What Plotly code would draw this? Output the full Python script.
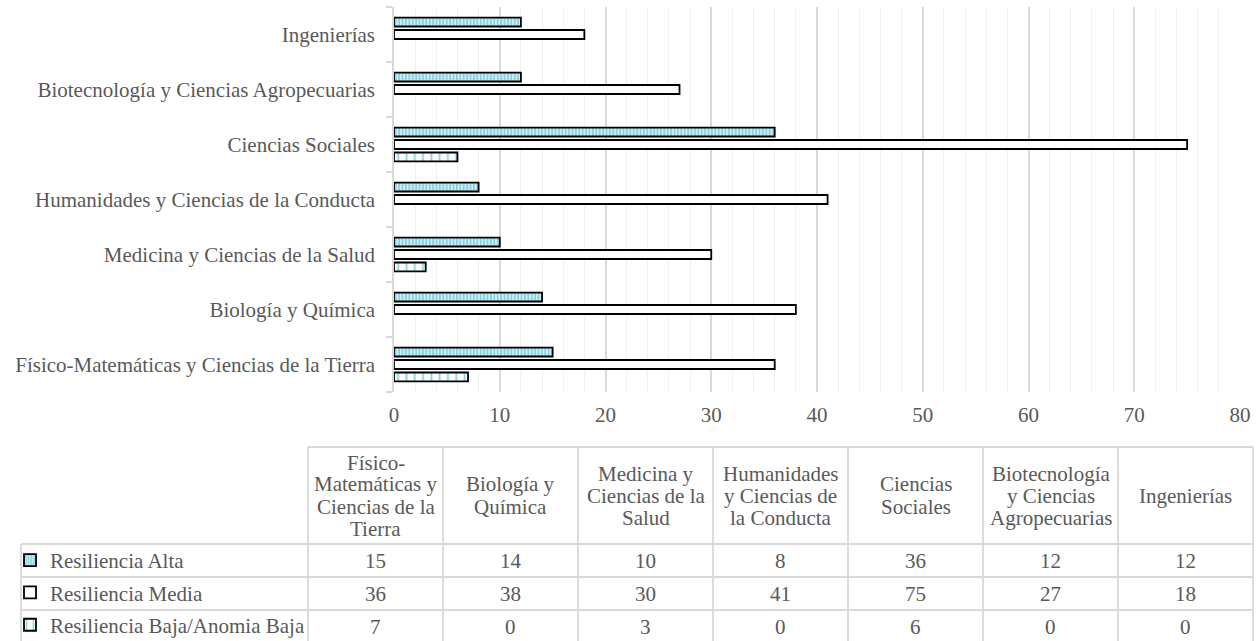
import plotly.graph_objects as go

# ---------------- data ----------------
categories = [
    "Físico-Matemáticas y Ciencias de la Tierra",
    "Biología y Química",
    "Medicina y Ciencias de la Salud",
    "Humanidades y Ciencias de la Conducta",
    "Ciencias Sociales",
    "Biotecnología y Ciencias Agropecuarias",
    "Ingenierías",
]
header_labels = [
    "Físico-<br>Matemáticas y<br>Ciencias de la<br>Tierra",
    "Biología y<br>Química",
    "Medicina y<br>Ciencias de la<br>Salud",
    "Humanidades<br>y Ciencias de<br>la Conducta",
    "Ciencias<br>Sociales",
    "Biotecnología<br>y Ciencias<br>Agropecuarias",
    "Ingenierías",
]
series_names = ["Resiliencia Alta", "Resiliencia Media", "Resiliencia Baja/Anomia Baja"]
alta = [15, 14, 10, 8, 36, 12, 12]
media = [36, 38, 30, 41, 75, 27, 18]
baja = [7, 0, 3, 0, 6, 0, 0]
x_ticks = [0, 10, 20, 30, 40, 50, 60, 70, 80]

# ---------------- geometry / style ----------------
W, H = 1259, 641
PL, PR, PT, PB = 394, 1240, 7, 392          # plot area in pixels
FONT = "Liberation Serif, Times New Roman, serif"
TXT = "#595959"
GRID = "#d9d9d9"
CYAN = "#0fa6c2"
FS = 21


def px(x):
    return (x - PL) / (PR - PL)


def py(y):
    return (PB - y) / (PB - PT)


fig = go.Figure()

series = [
    (series_names[2], baja, dict(shape="|", size=8.3, solidity=0.22, fgcolor=CYAN, bgcolor="white"), 3),
    (series_names[1], media, None, 2),
    (series_names[0], alta, dict(shape="|", size=3.4, solidity=0.7, fgcolor=CYAN, bgcolor="white"), 1),
]
for name, vals, pat, rank in series:
    marker = dict(color="white", line=dict(color="black", width=1.8))
    if pat:
        marker["pattern"] = pat
    fig.add_trace(go.Bar(
        x=[v if v else None for v in vals], y=categories, orientation="h", name=name,
        marker=marker, legendrank=rank, legendgroup=name,
    ))

# ---------------- table (drawn below the chart) ----------------
TL, C0, CW = 21, 308, 135
HT, HB = 447, 544
ROW_H = 33
rows = [alta, media, baja]
ncol = len(categories)
TR = C0 + CW * ncol
TB = HB + ROW_H * len(rows)

shapes = []
lw = 1.8


def hline(y, x0, x1):
    shapes.append(dict(type="line", xref="paper", yref="paper", x0=px(x0), x1=px(x1),
                       y0=py(y), y1=py(y), line=dict(color=GRID, width=lw)))


def vline(x, y0, y1):
    shapes.append(dict(type="line", xref="paper", yref="paper", x0=px(x), x1=px(x),
                       y0=py(y0), y1=py(y1), line=dict(color=GRID, width=lw)))


hline(HT, C0, TR)
for r in range(len(rows) + 1):
    hline(HB + r * ROW_H, TL, TR)
vline(TL, HB, TB)
for c in range(ncol + 1):
    vline(C0 + c * CW, HT, TB)

annotations = []
LINE = 22
for c, lab in enumerate(header_labels):
    lines = lab.split("<br>")
    n = len(lines)
    cx = C0 + CW * (c + 0.5)
    cy = (HT + HB) / 2
    for i, t in enumerate(lines):
        yy = cy + (i - (n - 1) / 2) * LINE
        annotations.append(dict(text=t, x=px(cx), y=py(yy), xref="paper", yref="paper",
                                xanchor="center", yanchor="middle", showarrow=False,
                                font=dict(family=FONT, size=FS, color=TXT)))
for r, vals in enumerate(rows):
    cy = HB + ROW_H * (r + 0.5)
    for c, v in enumerate(vals):
        cx = C0 + CW * (c + 0.5)
        annotations.append(dict(text=str(v), x=px(cx), y=py(cy), xref="paper", yref="paper",
                                xanchor="center", yanchor="middle", showarrow=False,
                                font=dict(family=FONT, size=FS, color=TXT)))

fig.update_layout(
    width=W, height=H,
    margin=dict(l=PL, r=W - PR, t=PT, b=H - PB, pad=0, autoexpand=False),
    plot_bgcolor="white", paper_bgcolor="white",
    barmode="group", bargap=0.32, bargroupgap=0.28,
    font=dict(family=FONT, size=FS, color=TXT),
    showlegend=True,
    legend=dict(xref="container", yref="container", x=10 / W, y=1 - 540 / H,
                xanchor="left", yanchor="top",
                bgcolor="rgba(0,0,0,0)", tracegroupgap=2,
                font=dict(family=FONT, size=FS, color=TXT)),
    shapes=shapes,
    annotations=annotations,
    xaxis=dict(range=[0, 80], tickvals=x_ticks, showgrid=True, gridcolor=GRID, gridwidth=1.5,
               minor=dict(dtick=2, showgrid=True, gridcolor="#f0f0f0", gridwidth=1),
               zeroline=False, showline=False, ticks="", ticklabelstandoff=8,
               tickfont=dict(family=FONT, size=FS, color=TXT), fixedrange=True),
    yaxis=dict(categoryorder="array", categoryarray=categories, showline=True,
               linecolor=GRID, linewidth=1.5, ticks="outside", tickson="boundaries",
               ticklen=6, tickcolor=GRID, tickwidth=1.5, showgrid=False,
               ticklabelstandoff=13,
               tickfont=dict(family=FONT, size=FS, color=TXT), fixedrange=True),
)

fig.write_html("out.html", config={"displayModeBar": False},
               post_script="document.body.style.margin='0';")
